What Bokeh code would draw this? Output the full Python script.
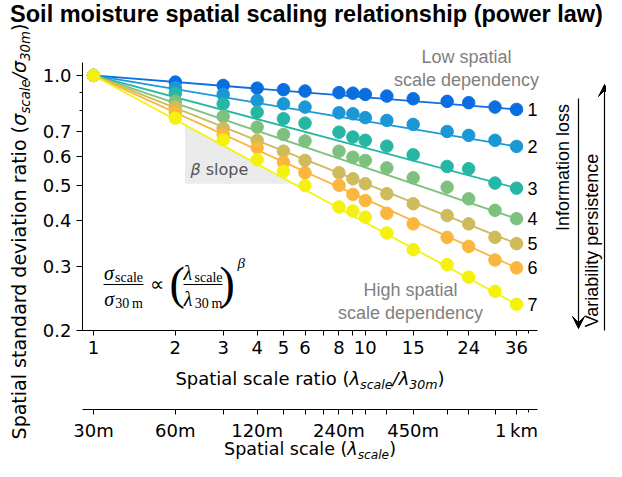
import math
from bokeh.plotting import figure
from bokeh.models import Range1d, LogAxis, FixedTicker, Label, Arrow, VeeHead
from bokeh.embed import file_html
from bokeh.resources import INLINE
from bokeh.core.properties import value

# ---------------- data ----------------
ratio = [1, 2, 3, 4, 5, 6, 8, 9, 10, 12, 15, 20, 24, 30, 36]
series_1 = [1.0, 0.959, 0.939, 0.923, 0.914, 0.906, 0.897, 0.894, 0.887, 0.878, 0.863, 0.849, 0.842, 0.819, 0.807]
series_2 = [1.0, 0.925, 0.887, 0.854, 0.836, 0.819, 0.790, 0.785, 0.766, 0.753, 0.734, 0.702, 0.685, 0.664, 0.639]
series_3 = [1.0, 0.894, 0.836, 0.793, 0.761, 0.740, 0.699, 0.678, 0.664, 0.640, 0.606, 0.563, 0.555, 0.507, 0.491]
series_4 = [1.0, 0.850, 0.772, 0.722, 0.689, 0.661, 0.620, 0.597, 0.585, 0.558, 0.524, 0.494, 0.459, 0.427, 0.405]
series_5 = [1.0, 0.819, 0.717, 0.664, 0.620, 0.585, 0.541, 0.521, 0.505, 0.474, 0.445, 0.413, 0.392, 0.360, 0.346]
series_6 = [1.0, 0.793, 0.689, 0.634, 0.578, 0.541, 0.500, 0.472, 0.454, 0.419, 0.392, 0.360, 0.340, 0.312, 0.297]
series_7 = [1.0, 0.764, 0.666, 0.587, 0.546, 0.499, 0.436, 0.425, 0.409, 0.370, 0.333, 0.303, 0.280, 0.256, 0.236]
all_series = [series_1, series_2, series_3, series_4, series_5, series_6, series_7]
series_names = ["1", "2", "3", "4", "5", "6", "7"]
fit_start = [1.0, 1.0, 1.0, 1.0, 1.0, 1.0, 1.0]
fit_end = [0.807, 0.639, 0.491, 0.405, 0.346, 0.297, 0.236]
colors = ["#0b6ee0", "#1a97d6", "#25b6a4", "#7dc17e", "#cdbb5c", "#fbb63d", "#f4f20c"]

# beta-slope triangle (along fit line 7)
tri_x = [2.17, 2.17, 5.43]
tri_y = [0.731, 0.505, 0.505]

ratio_ticks = [1, 2, 3, 4, 5, 6, 7, 8, 9, 10, 12, 15, 20, 24, 30, 36]
ratio_minor = [40]
ratio_labels = {1: "1", 2: "2", 3: "3", 4: "4", 5: "5", 6: "6", 8: "8", 10: "10", 15: "15", 24: "24", 36: "36"}
scale_labels = {1: "30m", 2: "60m", 4: "120m", 8: "240m", 15: "450m", 36: "1\u2009km"}
y_ticks = [0.2, 0.3, 0.4, 0.5, 0.6, 0.7, 1.0]
y_minor = [0.8, 0.9]
y_labels = {0.2: "0.2", 0.3: "0.3", 0.4: "0.4", 0.5: "0.5", 0.6: "0.6", 0.7: "0.7", 1.0: "1.0"}

X_MIN, X_MAX = 0.911, 43.0
Y_MIN, Y_MAX = 0.2, 1.085

# ---------------- layout ----------------
# the frame covers the whole canvas; the data box sits at these pixel edges
W, H = 606, 461
BL, BR, BT, BB = 82, 537, 62, 330
SEC_AXIS_PX = 409

lx0, lx1 = math.log10(X_MIN), math.log10(X_MAX)
ly0, ly1 = math.log10(Y_MIN), math.log10(Y_MAX)
dx = (lx1 - lx0) / (BR - BL)
dy = (ly1 - ly0) / (BB - BT)
x_start = 10 ** (lx0 - BL * dx)
x_end = 10 ** (lx1 + (W - BR) * dx)
y_end = 10 ** (ly1 + BT * dy)
y_start = 10 ** (ly0 - (H - BB) * dy)
y_sec = 10 ** (ly0 - (SEC_AXIS_PX - BB) * dy)

p = figure(width=W, height=H, x_axis_type="log", y_axis_type="log",
           x_axis_location=None, y_axis_location=None,
           x_range=Range1d(x_start, x_end), y_range=Range1d(y_start, y_end),
           output_backend="svg", toolbar_location=None,
           min_border_left=0, min_border_right=0, min_border_top=0, min_border_bottom=0)
p.grid.visible = False
p.outline_line_color = None
p.background_fill_color = "white"
p.border_fill_color = "white"

def style_axis(ax):
    ax.axis_line_color = "black"
    ax.axis_line_width = 1
    ax.major_tick_line_color = "black"
    ax.minor_tick_line_color = "black"
    ax.major_tick_out = 5
    ax.major_tick_in = 0
    ax.minor_tick_out = 3
    ax.minor_tick_in = 0
    ax.major_label_text_font = "DejaVu Sans"
    ax.major_label_text_font_size = "18px"
    ax.major_label_text_color = "black"
    ax.major_label_standoff = 5

xa = LogAxis(fixed_location=Y_MIN, bounds=(X_MIN, X_MAX),
             ticker=FixedTicker(ticks=ratio_ticks, minor_ticks=ratio_minor),
             major_label_overrides={k: ratio_labels.get(k, "") for k in ratio_ticks})
style_axis(xa)
p.add_layout(xa, "below")

xa2 = LogAxis(fixed_location=y_sec, bounds=(X_MIN, X_MAX),
              ticker=FixedTicker(ticks=ratio_ticks, minor_ticks=ratio_minor),
              major_label_overrides={k: scale_labels.get(k, "") for k in ratio_ticks})
style_axis(xa2)
p.add_layout(xa2, "below")

ya = LogAxis(fixed_location=X_MIN, bounds=(Y_MIN, Y_MAX),
             ticker=FixedTicker(ticks=y_ticks, minor_ticks=y_minor),
             major_label_overrides=y_labels)
style_axis(ya)
ya.major_tick_out = 6
p.add_layout(ya, "left")

# ---------------- marks ----------------
p.patch(tri_x, tri_y, fill_color="#ebebeb", line_color=None)

for vals, fe, fs, c in zip(all_series, fit_end, fit_start, colors):
    p.line([ratio[0], ratio[-1]], [fs, fe], line_color=c, line_width=1.8)
    p.scatter(ratio, vals, size=12.5, fill_color=c, line_color=c)

p.text(x=[39.5] * len(series_names), y=fit_end, text=series_names,
       text_font=value("Liberation Sans"), text_font_size="18px",
       text_baseline="middle", text_align="left", text_color="black")

# ---------------- text helpers ----------------
DJ = {' ': 0.318, '(': 0.390, ')': 0.390, '/': 0.337, '.': 0.318,
      '0': 0.636, '1': 0.636, '2': 0.636, '3': 0.636, '4': 0.636, '5': 0.636,
      '6': 0.636, '7': 0.636, '8': 0.636, '9': 0.636,
      'S': 0.635, 'a': 0.613, 'b': 0.635, 'c': 0.550, 'd': 0.635, 'e': 0.615,
      'g': 0.635, 'h': 0.634, 'i': 0.278, 'k': 0.579, 'l': 0.278, 'm': 0.974,
      'n': 0.634, 'o': 0.612, 'p': 0.635, 'r': 0.411, 's': 0.521, 't': 0.392,
      'u': 0.634, 'v': 0.592, 'w': 0.818, 'y': 0.592,
      '\u03c3': 0.634, '\u03bb': 0.592, '\u03b2': 0.636}
SERIF = {' ': 0.25, '\u2009': 0.2, 's': 0.389, 'c': 0.444, 'a': 0.444, 'l': 0.278,
         'e': 0.444, '3': 0.5, '0': 0.5, 'm': 0.778,
         '\u03c3': 0.55, '\u03bb': 0.55, '\u03b2': 0.5, '(': 0.333, ')': 0.333}

BASE_FIX = 0.35  # observed baseline offset of labels, in em

def tw(text, size, font):
    table = DJ if font == "DejaVu Sans" else SERIF
    return sum(table.get(ch, 0.6) for ch in text) * size

def put(text, cx, cy, size, font="DejaVu Sans", style="normal", color="black",
        align="left", baseline="alphabetic", angle=0.0):
    if angle == 0:
        cy = cy - BASE_FIX * size
    else:
        cx = cx - BASE_FIX * size
    p.add_layout(Label(x=cx, y=H - cy, x_units="screen", y_units="screen",
                       text=text, text_font=font, text_font_size=f"{size}px",
                       text_font_style=style, text_color=color,
                       text_align=align, text_baseline=baseline, angle=angle))

def put_seq(pieces, cx, cy, angle=0.0, color="black"):
    total = sum(tw(t, s, f) for t, s, f, st, sh in pieces)
    pos = -total / 2
    for t, s, f, st, sh in pieces:
        if angle == 0:
            put(t, cx + pos, cy + sh, s, f, st, color)
        else:
            put(t, cx + sh, cy - pos, s, f, st, color, angle=angle)
        pos += tw(t, s, f)

def seg(x0, y0, x1, y1, head=None, width=1.1):
    p.add_layout(Arrow(start=None, end=head, x_start=x0, x_end=x1,
                       y_start=H - y0, y_end=H - y1, start_units="screen",
                       end_units="screen", line_color="black", line_width=width))

DV = "DejaVu Sans"
SF = "Liberation Serif"
LS = "Liberation Sans"

# title
put("Soil moisture spatial scaling relationship (power law)", 306, 22, 23.5,
    font=LS, style="bold", align="center")

# axis labels
put_seq([("Spatial scale ratio (", 18, DV, "normal", 0),
         ("\u03bb", 18, DV, "italic", 0), ("scale", 12.6, DV, "italic", 4),
         ("/", 18, DV, "italic", 0),
         ("\u03bb", 18, DV, "italic", 0), ("30m", 12.6, DV, "italic", 4),
         (")", 18, DV, "normal", 0)], 309.5, 384)
put_seq([("Spatial scale (", 17.5, DV, "normal", 0),
         ("\u03bb", 17.5, DV, "italic", 0), ("scale", 12.2, DV, "italic", 3.8),
         (")", 17.5, DV, "normal", 0)], 309.5, 455)
put_seq([("Spatial standard deviation ratio (", 19, DV, "normal", 0),
         ("\u03c3", 19, DV, "italic", 0), ("scale", 13.3, DV, "italic", 4.3),
         ("/", 19, DV, "italic", 0),
         ("\u03c3", 19, DV, "italic", 0), ("30m", 13.3, DV, "italic", 4.3),
         (")", 19, DV, "normal", 0)], 25, 231, angle=math.pi / 2)

# annotations
GRAY = "#7f7f7f"
put("Low spatial", 466, 63, 18, font=LS, color=GRAY, align="center")
put("scale dependency", 466, 86, 18, font=LS, color=GRAY, align="center")
put("High spatial", 410, 296, 18, font=LS, color=GRAY, align="center")
put("scale dependency", 410, 319, 18, font=LS, color=GRAY, align="center")

put("\u03b2", 190, 175, 16, font=DV, style="italic", color="#555555")
put("slope", 190 + tw("\u03b2 ", 16, DV), 175, 16, font=DV, color="#555555")

# formula
put_seq([("\u03c3", 20, SF, "italic", 0), ("scale", 14, SF, "normal", 3)], 123, 279)
put_seq([("\u03c3", 20, SF, "italic", 0), ("30\u2009m", 14, SF, "normal", 3)], 123, 305)
seg(103, 284, 143, 284)
put("\u221d", 149, 290, 20, font=SF)
put("(", 169, 299, 46, font=SF)
put_seq([("\u03bb", 20, SF, "italic", 0), ("scale", 14, SF, "normal", 3)], 202.5, 279)
put_seq([("\u03bb", 20, SF, "italic", 0), ("30\u2009m", 14, SF, "normal", 3)], 202.5, 305)
seg(183, 284, 222, 284)
put(")", 219, 299, 46, font=SF)
put("\u03b2", 237, 268, 15, font=SF, style="italic")

# right-hand arrows
put("Information loss", 569, 167, 18, font=LS, align="center", angle=math.pi / 2)
put("Variability persistence", 598, 240, 18, font=LS, align="center", angle=math.pi / 2)
seg(578, 98, 578, 328, head=VeeHead(size=12, fill_color="black", line_color="black"), width=1.2)
seg(604, 330, 604, 84, head=VeeHead(size=12, fill_color="black", line_color="black"), width=1.2)

open("out.html", "w").write(file_html(p, INLINE))
